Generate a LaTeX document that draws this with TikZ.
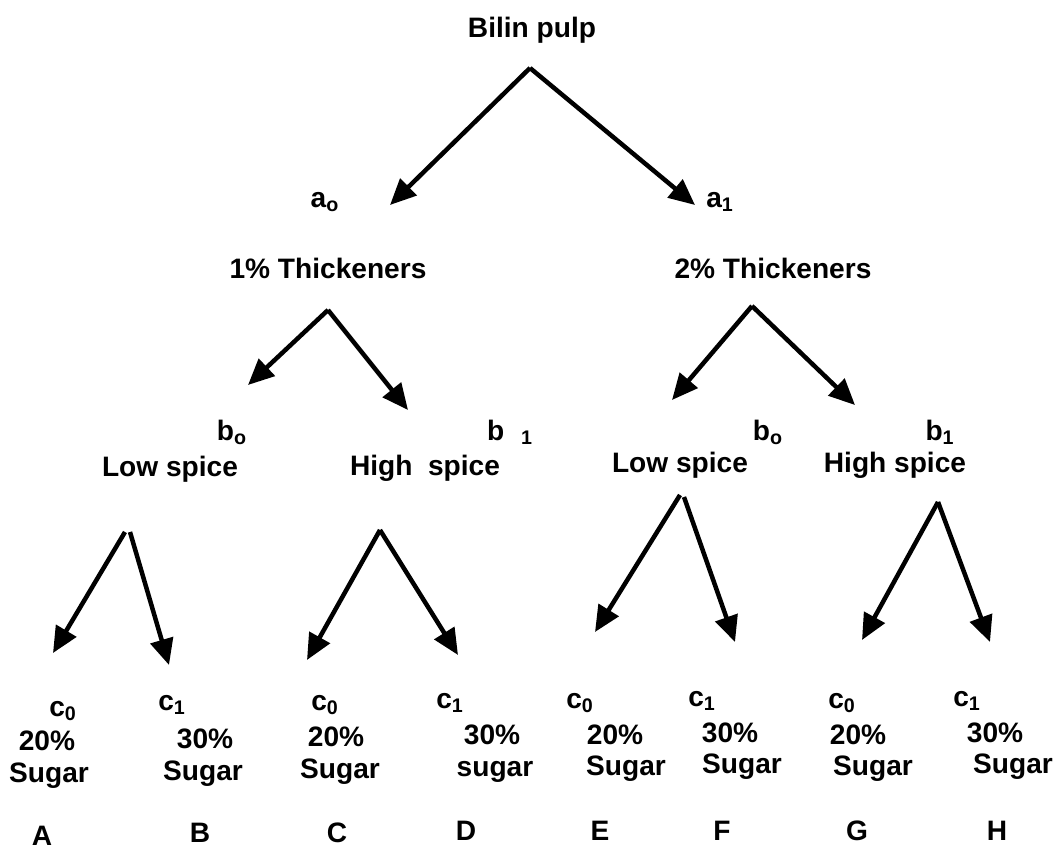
\documentclass[tikz,border=0pt]{standalone}
\usepackage{fontspec}
\setmainfont{Liberation Sans}
\usetikzlibrary{arrows.meta}
\tikzset{
  lbl/.style={font=\bfseries\fontsize{16}{19}\selectfont,inner sep=0pt,anchor=base},
  arr/.style={line width=0.09cm,-{Triangle[length=0.52cm,width=0.46cm]}}
}

\begin{document}
\begin{tikzpicture}[x=0.02cm,y=-0.02cm]
\useasboundingbox (0,0) rectangle (1060,851);
% top level
\node[lbl] (pulp) at (532,38) {Bilin pulp};
\coordinate (pulp-fork) at (530,68);
\coordinate (a0-tip) at (390,205);
\coordinate (a1-tip) at (695,205);
\draw[arr] (pulp-fork) -- (a0-tip);
\draw[arr] (pulp-fork) -- (a1-tip);
\node[lbl] (a0) at (325,207) {a\textsubscript{o}};
\node[lbl] (a1) at (720,207) {a\textsubscript{1}};
\node[lbl] (thick1) at (328,278) {1\% Thickeners};
\node[lbl] (thick2) at (773,278) {2\% Thickeners};
% second level
\coordinate (thick1-fork) at (328,310);
\coordinate (thick2-fork) at (752,306);
\coordinate (b0l-tip) at (248,385);
\coordinate (b1l-tip) at (408,410);
\coordinate (b0r-tip) at (672,400);
\coordinate (b1r-tip) at (855,405);
\draw[arr] (thick1-fork) -- (b0l-tip);
\draw[arr] (thick1-fork) -- (b1l-tip);
\draw[arr] (thick2-fork) -- (b0r-tip);
\draw[arr] (thick2-fork) -- (b1r-tip);
\node[lbl] (b0l) at (232,440) {b\textsubscript{o}};
\node[lbl] (low1) at (170,476) {Low spice};
\node[lbl] (b1l) at (510,440) {b\hspace{0.6em}\textsubscript{1}};
\node[lbl] (high1) at (425,475) {High\ \ spice};
\node[lbl] (b0r) at (768,440) {b\textsubscript{o}};
\node[lbl] (low2) at (680,472) {Low spice};
\node[lbl] (b1r) at (940,440) {b\textsubscript{1}};
\node[lbl] (high2) at (895,472) {High spice};
% third level
\coordinate (low1-forka) at (125,532);
\coordinate (low1-forkb) at (130,532);
\coordinate (high1-fork) at (380,530);
\coordinate (low2-forka) at (680,495);
\coordinate (low2-forkb) at (684,497);
\coordinate (high2-fork) at (938,502);
\coordinate (A-tip) at (53,653);
\coordinate (B-tip) at (169,665);
\coordinate (C-tip) at (307,660);
\coordinate (D-tip) at (458,655);
\coordinate (E-tip) at (595,632);
\coordinate (F-tip) at (735,642);
\coordinate (G-tip) at (862,640);
\coordinate (H-tip) at (990,642);
\draw[arr] (low1-forka) -- (A-tip);
\draw[arr] (low1-forkb) -- (B-tip);
\draw[arr] (high1-fork) -- (C-tip);
\draw[arr] (high1-fork) -- (D-tip);
\draw[arr] (low2-forka) -- (E-tip);
\draw[arr] (low2-forkb) -- (F-tip);
\draw[arr] (high2-fork) -- (G-tip);
\draw[arr] (high2-fork) -- (H-tip);
% leaves
\node[lbl] (cA) at (63,716) {c\textsubscript{0}};
\node[lbl] (cB) at (172,710) {c\textsubscript{1}};
\node[lbl] (cC) at (325,710) {c\textsubscript{0}};
\node[lbl] (cD) at (450,708) {c\textsubscript{1}};
\node[lbl] (cE) at (580,708) {c\textsubscript{0}};
\node[lbl] (cF) at (702,706) {c\textsubscript{1}};
\node[lbl] (cG) at (842,708) {c\textsubscript{0}};
\node[lbl] (cH) at (967,706) {c\textsubscript{1}};
\node[lbl] (pA) at (47,750) {20\%};
\node[lbl] (pB) at (205,748) {30\%};
\node[lbl] (pC) at (336,746) {20\%};
\node[lbl] (pD) at (492,744) {30\%};
\node[lbl] (pE) at (615,744) {20\%};
\node[lbl] (pF) at (730,742) {30\%};
\node[lbl] (pG) at (858,744) {20\%};
\node[lbl] (pH) at (995,742) {30\%};
\node[lbl] (sA) at (49,782) {Sugar};
\node[lbl] (sB) at (203,780) {Sugar};
\node[lbl] (sC) at (340,778) {Sugar};
\node[lbl] (sD) at (495,776) {sugar};
\node[lbl] (sE) at (626,775) {Sugar};
\node[lbl] (sF) at (742,773) {Sugar};
\node[lbl] (sG) at (873,775) {Sugar};
\node[lbl] (sH) at (1013,773) {Sugar};
\node[lbl] (A) at (42,845) {A};
\node[lbl] (B) at (200,842) {B};
\node[lbl] (C) at (337,842) {C};
\node[lbl] (D) at (466,840) {D};
\node[lbl] (E) at (600,840) {E};
\node[lbl] (F) at (722,840) {F};
\node[lbl] (G) at (857,840) {G};
\node[lbl] (H) at (997,840) {H};
\end{tikzpicture}
\end{document}
